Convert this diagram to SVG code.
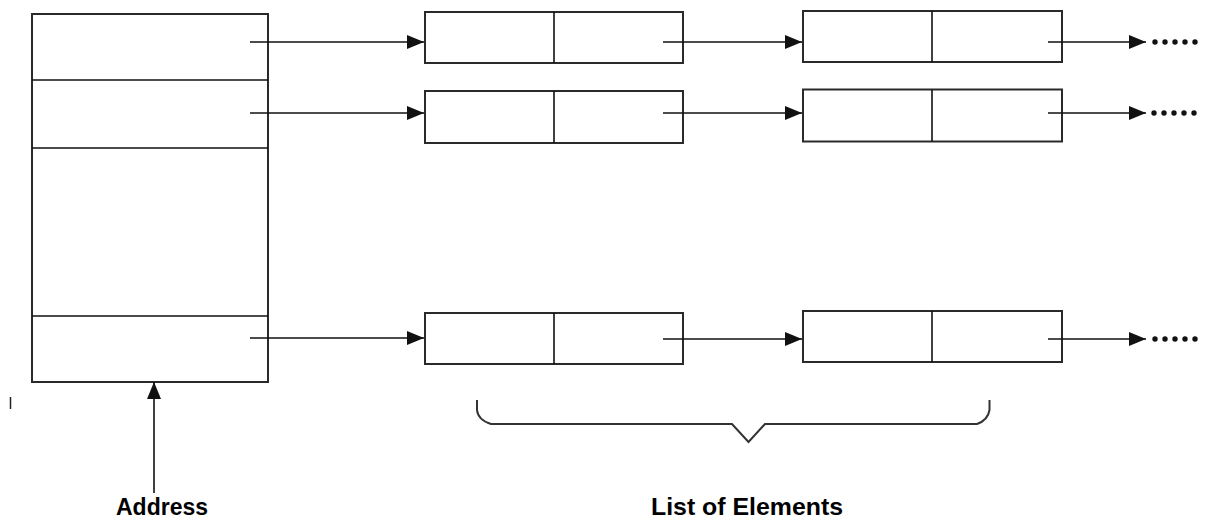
<svg xmlns="http://www.w3.org/2000/svg" width="1206" height="521" viewBox="0 0 1206 521">
  <style>
    .frame { fill: #fff; stroke: #2a2a2a; stroke-width: 2; }
    .rule { stroke: #111; stroke-width: 1.6; fill: none; }
    .link { stroke: #111; stroke-width: 1.6; fill: none; }
    .brace { stroke: #333; stroke-width: 2; fill: none; }
    .dot { fill: #111; }
    .label { font-family: "Liberation Sans", Arial, sans-serif; font-weight: bold; font-size: 24px; fill: #000; }
  </style>
  <defs>
    <marker id="head" markerWidth="18" markerHeight="16" refX="17" refY="8" orient="auto" markerUnits="userSpaceOnUse">
      <path d="M0,1 L17,8 L0,15 Z" fill="#111"/>
    </marker>
  </defs>

  <rect width="1206" height="521" fill="#fff"/>

  <!-- address table -->
  <g id="address-table">
    <rect class="frame" x="32" y="14" width="236" height="368"/>
    <line class="rule" x1="32" y1="80" x2="268" y2="80"/>
    <line class="rule" x1="32" y1="148" x2="268" y2="148"/>
    <line class="rule" x1="32" y1="316" x2="268" y2="316"/>
  </g>

  <!-- row 1 elements -->
  <g id="r1-e1">
    <rect class="frame" x="425" y="12" width="258" height="51"/>
    <line class="rule" x1="554" y1="12" x2="554" y2="63"/>
  </g>
  <g id="r1-e2">
    <rect class="frame" x="803" y="11" width="259" height="51"/>
    <line class="rule" x1="932" y1="11" x2="932" y2="62"/>
  </g>

  <!-- row 2 elements -->
  <g id="r2-e1">
    <rect class="frame" x="425" y="91" width="258" height="52"/>
    <line class="rule" x1="554" y1="91" x2="554" y2="143"/>
  </g>
  <g id="r2-e2">
    <rect class="frame" x="803" y="89.5" width="259" height="52"/>
    <line class="rule" x1="932" y1="89.5" x2="932" y2="141.5"/>
  </g>

  <!-- row 3 elements -->
  <g id="r3-e1">
    <rect class="frame" x="425" y="313" width="258" height="51"/>
    <line class="rule" x1="554" y1="313" x2="554" y2="364"/>
  </g>
  <g id="r3-e2">
    <rect class="frame" x="803" y="311" width="259" height="51"/>
    <line class="rule" x1="932" y1="311" x2="932" y2="362"/>
  </g>

  <!-- pointers -->
  <g id="connectors">
    <line class="link" x1="250" y1="42" x2="424" y2="42" marker-end="url(#head)"/>
    <line class="link" x1="663" y1="42" x2="802" y2="42" marker-end="url(#head)"/>
    <line class="link" x1="1048" y1="42" x2="1146" y2="42" marker-end="url(#head)"/>

    <line class="link" x1="250" y1="113" x2="424" y2="113" marker-end="url(#head)"/>
    <line class="link" x1="663" y1="113" x2="802" y2="113" marker-end="url(#head)"/>
    <line class="link" x1="1048" y1="113" x2="1146" y2="113" marker-end="url(#head)"/>

    <line class="link" x1="250" y1="338" x2="424" y2="338" marker-end="url(#head)"/>
    <line class="link" x1="663" y1="339" x2="802" y2="339" marker-end="url(#head)"/>
    <line class="link" x1="1048" y1="339" x2="1146" y2="339" marker-end="url(#head)"/>

    <line class="link" x1="154" y1="493" x2="154" y2="382" stroke-width="2" marker-end="url(#head)"/>
  </g>

  <!-- continuation dots -->
  <g id="continuation">
    <circle class="dot" cx="1155" cy="42" r="2.7"/>
    <circle class="dot" cx="1165" cy="42" r="2.7"/>
    <circle class="dot" cx="1175" cy="42" r="2.7"/>
    <circle class="dot" cx="1185" cy="42" r="2.7"/>
    <circle class="dot" cx="1195" cy="42" r="2.7"/>

    <circle class="dot" cx="1154" cy="113" r="2.7"/>
    <circle class="dot" cx="1164" cy="113" r="2.7"/>
    <circle class="dot" cx="1174" cy="113" r="2.7"/>
    <circle class="dot" cx="1184" cy="113" r="2.7"/>
    <circle class="dot" cx="1194" cy="113" r="2.7"/>

    <circle class="dot" cx="1155" cy="339" r="2.7"/>
    <circle class="dot" cx="1165" cy="339" r="2.7"/>
    <circle class="dot" cx="1175" cy="339" r="2.7"/>
    <circle class="dot" cx="1185" cy="339" r="2.7"/>
    <circle class="dot" cx="1195" cy="339" r="2.7"/>
  </g>

  <!-- brace under the list -->
  <g id="brace">
    <path class="brace" d="M477,400 L477,410 Q478,420 491,424 L732,424 L748.5,442 L765,424 L977,424 Q988,420 989.5,410 L989.5,400"/>
  </g>

  <line x1="10.5" y1="397" x2="10.5" y2="409" stroke="#222" stroke-width="1.5"/>

  <g id="labels">
    <text class="label" x="116" y="515" textLength="92" lengthAdjust="spacingAndGlyphs">Address</text>
    <text class="label" x="651" y="515" textLength="192" lengthAdjust="spacingAndGlyphs">List of Elements</text>
  </g>
</svg>
